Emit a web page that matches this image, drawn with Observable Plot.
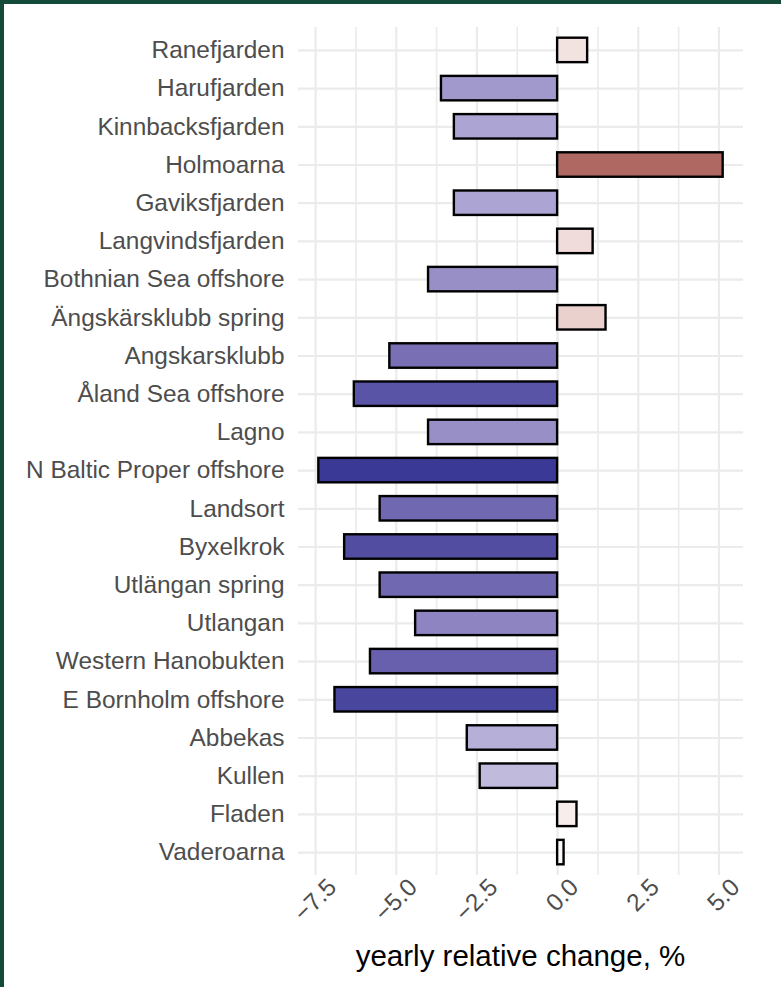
<!DOCTYPE html>
<html><head><meta charset="utf-8">
<script src="https://cdn.jsdelivr.net/npm/d3@7"></script>
<script src="https://cdn.jsdelivr.net/npm/@observablehq/plot@0.6"></script>
<style>
html,body{margin:0;padding:0;background:#fff;}
#frame{position:relative;width:777px;height:983px;border-top:4px solid #134a39;border-left:4px solid #134a39;background:#fff;font-family:"Liberation Sans",Arial,sans-serif;}
#title{position:absolute;left:294px;width:445px;top:935px;text-align:center;font-size:29.5px;line-height:34px;color:#000;white-space:nowrap;}
</style></head><body>
<div id="frame"><div id="chart"></div><div id="title">yearly relative change, %</div></div>
<script>
const sites = ["Ranefjarden","Harufjarden","Kinnbacksfjarden","Holmoarna","Gaviksfjarden","Langvindsfjarden","Bothnian Sea offshore","Ängskärsklubb spring","Angskarsklubb","Åland Sea offshore","Lagno","N Baltic Proper offshore","Landsort","Byxelkrok","Utlängan spring","Utlangan","Western Hanobukten","E Bornholm offshore","Abbekas","Kullen","Fladen","Vaderoarna"];
const changes = [0.93,-3.6,-3.2,5.13,-3.2,1.1,-4.0,1.5,-5.2,-6.3,-4.0,-7.4,-5.5,-6.6,-5.5,-4.4,-5.8,-6.9,-2.8,-2.4,0.6,0.2];
const xTicks = [-7.5,-5,-2.5,0,2.5,5];
const xMinor = [-6.25,-3.75,-1.25,1.25,3.75];
const xDomain = [-8.03,5.76];
const colorStops = [-7.4,0,5.13];
const colorRange = ["#3a3a96","#ffffff","#b06862"];

const data = sites.map((s,i)=>({site:s, change:changes[i]}));
const grid = "#ebebeb";

const chart = Plot.plot({
  width: 777, height: 926,
  marginLeft: 294, marginRight: 38, marginTop: 23, marginBottom: 55,
  style: {fontFamily: '"Liberation Sans", Arial, sans-serif', fontSize: "24.4px", color: "#4d4d4d", background: "transparent"},
  x: {domain: xDomain},
  y: {domain: sites, paddingInner: 0.36, paddingOuter: 0.28, align: 0.5, round: false},
  color: {type: "linear", domain: colorStops, range: colorRange, interpolate: "lab"},
  marks: [
    Plot.gridX(xMinor, {stroke: grid, strokeOpacity: 1, strokeWidth: 1.6}),
    Plot.gridX(xTicks, {stroke: grid, strokeOpacity: 1, strokeWidth: 2.2}),
    Plot.gridY({stroke: grid, strokeOpacity: 1, strokeWidth: 2.2}),
    Plot.barX(data, {x1: 0, x2: "change", y: "site", fill: "change", stroke: "#000", strokeWidth: 2.4}),
    Plot.axisY({tickSize: 0, tickPadding: 14, fontSize: 24.4, label: null}),
    Plot.axisX(xTicks, {tickSize: 0, tickRotate: -45, lineAnchor: "top", textAnchor: "end", tickPadding: 1, dx: 10, fontSize: 24.4, label: null, tickFormat: d3.format(".1f")})
  ]
});
document.getElementById("chart").appendChild(chart);
</script>
</body></html>
